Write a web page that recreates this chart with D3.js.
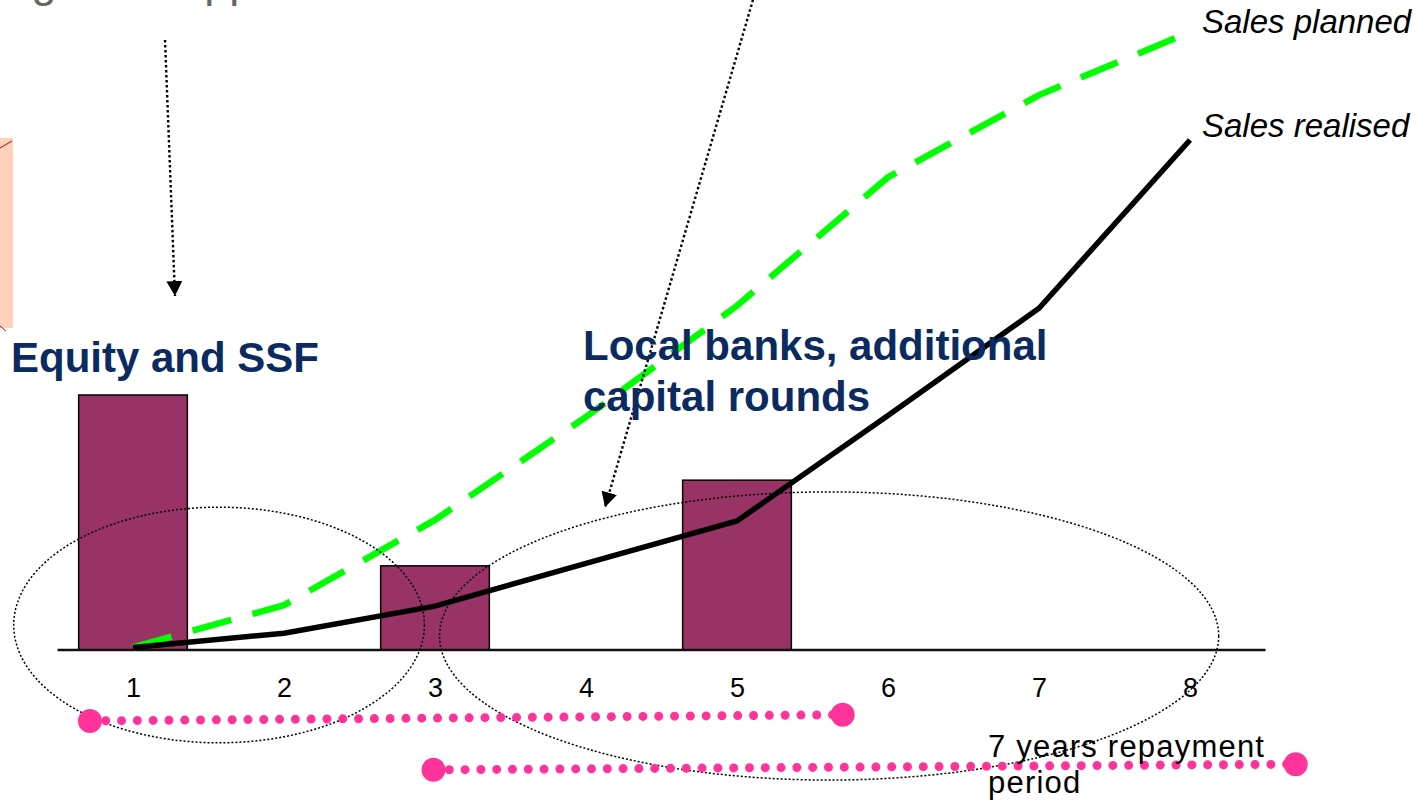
<!DOCTYPE html>
<html>
<head>
<meta charset="utf-8">
<script src="https://cdn.jsdelivr.net/npm/d3@7/dist/d3.min.js"></script>
<style>
  body { margin: 0; background: #fff; }
  svg { display: block; font-family: "Liberation Sans", Arial, sans-serif; }
</style>
</head>
<body>
<div id="chart"></div>
<script>
// years on the x axis
var years = [1, 2, 3, 4, 5, 6, 7, 8];

// sales lines (relative units)
var salesPlanned  = [0.5, 8.8, 25.5, 45.7, 67.5, 92.7, 108.8, 121.2];
var salesRealised = [0.5, 3.3, 8.6, 17, 25.3, 46, 67, 100];

// financing injections (bars)
var fundYears  = [1, 3, 5];
var fundValues = [50, 16.5, 33.3];

// annotation shapes in data units (year, value)
var ellipseYears  = [[0.21, 2.93], [3.03, 8.19]];
var ellipseValues = [[28, -18.2], [31, -25.5]];
var periodYears   = [[0.715, 5.70], [2.99, 8.70]];
var periodValues  = [[-13.9, -12.7], [-23.5, -22.4]];
var arrowYears    = [[1.212, 1.278], [5.106, 4.126]];
var arrowValues   = [[119.6, 69.4], [127.5, 28]];

var W = 1428, H = 801;

var svg = d3.select("#chart").append("svg")
    .attr("width", W)
    .attr("height", H);

var x = d3.scalePoint().domain(years).range([133, 1190]);
var xl = d3.scaleLinear().domain([1, 8]).range([133, 1190]);
var y = d3.scaleLinear().domain([0, 100]).range([650, 140]);
var step = x.step();
var bw = step * 0.72;

// arrow head
svg.append("defs").append("marker")
    .attr("id", "head")
    .attr("markerUnits", "userSpaceOnUse")
    .attr("markerWidth", 16).attr("markerHeight", 16)
    .attr("refX", 15).attr("refY", 8)
    .attr("orient", "auto")
  .append("path")
    .attr("d", "M0,0 L15,8 L0,16 Z")
    .attr("fill", "#000");

// cropped pieces from the slide around the chart
svg.append("text")
    .attr("x", -106).attr("y", -3)
    .attr("font-size", 45)
    .attr("fill", "#666")
    .text("Funding and support");

svg.append("rect")
    .attr("x", 0).attr("y", 138)
    .attr("width", 13).attr("height", 190)
    .attr("fill", "#ffd1ba");
svg.append("line")
    .attr("x1", 0).attr("y1", 148).attr("x2", 12).attr("y2", 141)
    .attr("stroke", "#cc0000").attr("stroke-width", 1);
svg.append("line")
    .attr("x1", 0).attr("y1", 326).attr("x2", 6).attr("y2", 331)
    .attr("stroke", "#cc0000").attr("stroke-width", 1);

// bars
svg.selectAll(".bar")
    .data(fundYears)
  .enter().append("rect")
    .attr("class", "bar")
    .attr("x", function(d) { return x(d) - bw / 2; })
    .attr("y", function(d, i) { return y(fundValues[i]); })
    .attr("width", bw)
    .attr("height", function(d, i) { return y(0) - y(fundValues[i]); })
    .attr("fill", "#993366")
    .attr("stroke", "#000")
    .attr("stroke-width", 1.5);

// base line
svg.append("line")
    .attr("x1", x(1) - step / 2).attr("x2", x(8) + step / 2)
    .attr("y1", y(0)).attr("y2", y(0))
    .attr("stroke", "#111")
    .attr("stroke-width", 2.5);

// axis labels
var axis = d3.axisBottom(x).tickSize(0).tickPadding(28);
var gx = svg.append("g")
    .attr("transform", "translate(0," + y(0) + ")")
    .call(axis);
gx.select(".domain").remove();
gx.selectAll("text")
    .attr("font-size", 27)
    .attr("font-family", "'Liberation Sans', Arial, sans-serif")
    .attr("fill", "#000");

// sales lines
var line = d3.line()
    .x(function(d, i) { return x(years[i]); })
    .y(function(d) { return y(d); });

svg.append("path")
    .datum(salesPlanned)
    .attr("d", line)
    .attr("fill", "none")
    .attr("stroke", "#00ff00")
    .attr("stroke-width", 6.5)
    .attr("stroke-dasharray", "40,22");

svg.append("path")
    .datum(salesRealised)
    .attr("d", line)
    .attr("fill", "none")
    .attr("stroke", "#000")
    .attr("stroke-width", 5.5);

svg.append("text")
    .attr("x", x(8) + 12).attr("y", y(salesPlanned[7]) + 1)
    .attr("font-size", 33).attr("font-style", "italic")
    .text("Sales planned");
svg.append("text")
    .attr("x", x(8) + 12).attr("y", y(salesRealised[7]) - 3)
    .attr("font-size", 33).attr("font-style", "italic")
    .text("Sales realised");

// dotted ellipses
svg.selectAll(".ell")
    .data(ellipseYears)
  .enter().append("ellipse")
    .attr("class", "ell")
    .attr("cx", function(d) { return (xl(d[0]) + xl(d[1])) / 2; })
    .attr("rx", function(d) { return (xl(d[1]) - xl(d[0])) / 2; })
    .attr("cy", function(d, i) { return (y(ellipseValues[i][0]) + y(ellipseValues[i][1])) / 2; })
    .attr("ry", function(d, i) { return (y(ellipseValues[i][1]) - y(ellipseValues[i][0])) / 2; })
    .attr("fill", "none")
    .attr("stroke", "#000")
    .attr("stroke-width", 1.5)
    .attr("stroke-dasharray", "2,2");

// dotted arrows
svg.selectAll(".arrow")
    .data(arrowYears)
  .enter().append("line")
    .attr("class", "arrow")
    .attr("x1", function(d) { return xl(d[0]); })
    .attr("x2", function(d) { return xl(d[1]); })
    .attr("y1", function(d, i) { return y(arrowValues[i][0]); })
    .attr("y2", function(d, i) { return y(arrowValues[i][1]); })
    .attr("stroke", "#000")
    .attr("stroke-width", 2.4)
    .attr("stroke-dasharray", "2.5,2.5")
    .attr("marker-end", "url(#head)");

// pink period lines
var pink = "#ff3399";
periodYears.forEach(function(p, i) {
    var x1 = xl(p[0]), x2 = xl(p[1]);
    var y1 = y(periodValues[i][0]), y2 = y(periodValues[i][1]);
    svg.append("line")
        .attr("x1", x1).attr("y1", y1).attr("x2", x2).attr("y2", y2)
        .attr("stroke", pink)
        .attr("stroke-width", 9)
        .attr("stroke-linecap", "round")
        .attr("stroke-dasharray", "0,15.8");
    svg.append("circle").attr("cx", x1).attr("cy", y1).attr("r", 12).attr("fill", pink);
    svg.append("circle").attr("cx", x2).attr("cy", y2).attr("r", 12).attr("fill", pink);
});

// labels
var navy = "#0b2a60";
svg.append("text")
    .attr("x", 11).attr("y", 372)
    .attr("font-size", 42).attr("font-weight", "bold")
    .attr("fill", navy)
    .text("Equity and SSF");

var lb = svg.append("text")
    .attr("x", 583).attr("y", 360)
    .attr("font-size", 42).attr("font-weight", "bold")
    .attr("fill", navy);
lb.append("tspan").attr("x", 583).text("Local banks, additional");
lb.append("tspan").attr("x", 583).attr("dy", 51).text("capital rounds");

var rp = svg.append("text")
    .attr("x", 988).attr("y", 757)
    .attr("font-size", 31)
    .attr("letter-spacing", 1.2)
    .attr("fill", "#000");
rp.append("tspan").attr("x", 988).text("7 years repayment");
rp.append("tspan").attr("x", 988).attr("dy", 36).text("period");
</script>
</body>
</html>
